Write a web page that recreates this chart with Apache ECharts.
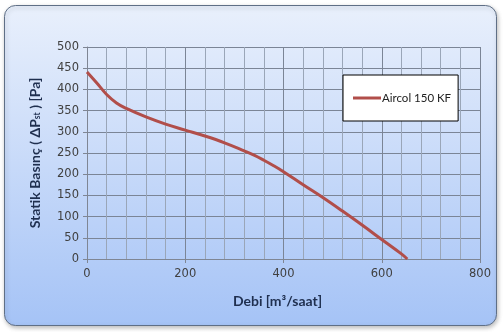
<!DOCTYPE html>
<html>
<head>
<meta charset="utf-8">
<script src="https://cdn.jsdelivr.net/npm/echarts@6/dist/echarts.min.js"></script>
<style>
  html, body { margin: 0; padding: 0; background: #ffffff; }
  #chart { width: 504px; height: 332px; }
</style>
</head>
<body>
<div id="chart"></div>
<script>
// Fan curve: airflow (m³/h) vs static pressure (Pa)
const seriesName = 'Aircol 150 KF';
const flowValues = [0, 20, 40, 60, 80, 120, 160, 200, 240, 280, 320, 340, 360, 380, 400, 440, 480, 520, 560, 600, 640, 652];
const pressureValues = [441, 415, 388, 368, 355, 335, 318, 304, 290, 274, 255, 245, 233, 220, 206, 175, 145, 113, 80, 46, 12, 0];
const xAxisTitle = 'Debi [m³/saat]';
const yAxisTitle = 'Statik Basınç ( ΔP{sub|st} ) [Pa]';

const points = flowValues.map((x, i) => [x, pressureValues[i]]);

const chart = echarts.init(document.getElementById('chart'), null, { renderer: 'canvas' });

const labelFont = 'DejaVu Sans';
const titleFont = 'Lato';

chart.setOption({
  animation: false,
  backgroundColor: '#ffffff',
  graphic: [{
    type: 'rect',
    z: -10,
    shape: { x: 4.5, y: 5.5, width: 492, height: 320, r: 11 },
    style: {
      fill: new echarts.graphic.LinearGradient(0, 0, 0, 1, [
        { offset: 0, color: '#e9f0fc' },
        { offset: 1, color: '#a5c3f6' }
      ]),
      stroke: '#5f6f86',
      lineWidth: 1,
      shadowBlur: 4,
      shadowOffsetX: 1,
      shadowOffsetY: 2,
      shadowColor: 'rgba(0,0,0,0.25)'
    }
  }],
  grid: { left: 87, right: 24, top: 47, bottom: 73 },
  legend: {
    left: 343,
    top: 75,
    width: 114,
    orient: 'horizontal',
    backgroundColor: '#ffffff',
    borderColor: '#000000',
    borderWidth: 1,
    borderRadius: 0,
    padding: [17, 7, 17, 10],
    itemWidth: 28,
    itemHeight: 3,
    itemGap: 0,
    icon: 'rect',
    textStyle: { fontFamily: titleFont, fontSize: 11.5, color: '#222222', padding: [0, 0, 0, -4] },
    data: [{ name: seriesName, itemStyle: { color: '#b14e4a' } }]
  },
  xAxis: {
    type: 'value',
    min: 0,
    max: 800,
    interval: 200,
    name: xAxisTitle,
    nameLocation: 'middle',
    nameGap: 35,
    nameTextStyle: { fontFamily: titleFont, fontWeight: 'bold', fontSize: 14, color: '#1f2f4f', padding: [0, 12, 0, 0] },
    axisLine: { show: true, lineStyle: { color: '#7f8694', width: 1 } },
    axisTick: { show: true, length: 4, lineStyle: { color: '#7f8694' } },
    axisLabel: { fontFamily: labelFont, fontSize: 11.5, color: '#404040', margin: 9 },
    splitLine: { show: true, lineStyle: { color: '#7b8596', width: 1 } },
    minorTick: { show: false, splitNumber: 5 },
    minorSplitLine: { show: true, lineStyle: { color: '#9aa6b8', width: 1 } }
  },
  yAxis: {
    type: 'value',
    min: 0,
    max: 500,
    interval: 50,
    name: yAxisTitle,
    nameLocation: 'middle',
    nameGap: 45,
    nameRotate: 90,
    nameTextStyle: {
      fontFamily: titleFont, fontWeight: 'bold', fontSize: 14, color: '#1f2f4f',
      rich: {
        sub: { fontFamily: titleFont, fontWeight: 'bold', fontSize: 8.5, color: '#1f2f4f', verticalAlign: 'bottom', padding: [5, 0, 0, 0] }
      }
    },
    axisLine: { show: true, lineStyle: { color: '#7f8694', width: 1 } },
    axisTick: { show: true, length: 4, lineStyle: { color: '#7f8694' } },
    axisLabel: { fontFamily: labelFont, fontSize: 11.5, color: '#404040', margin: 8 },
    splitLine: { show: true, lineStyle: { color: '#7b8596', width: 1 } }
  },
  series: [{
    name: seriesName,
    type: 'line',
    data: points,
    smooth: 0.4,
    showSymbol: false,
    symbol: 'none',
    lineStyle: { color: '#b14e4a', width: 3 },
    itemStyle: { color: '#b14e4a' }
  }]
});
</script>
</body>
</html>
